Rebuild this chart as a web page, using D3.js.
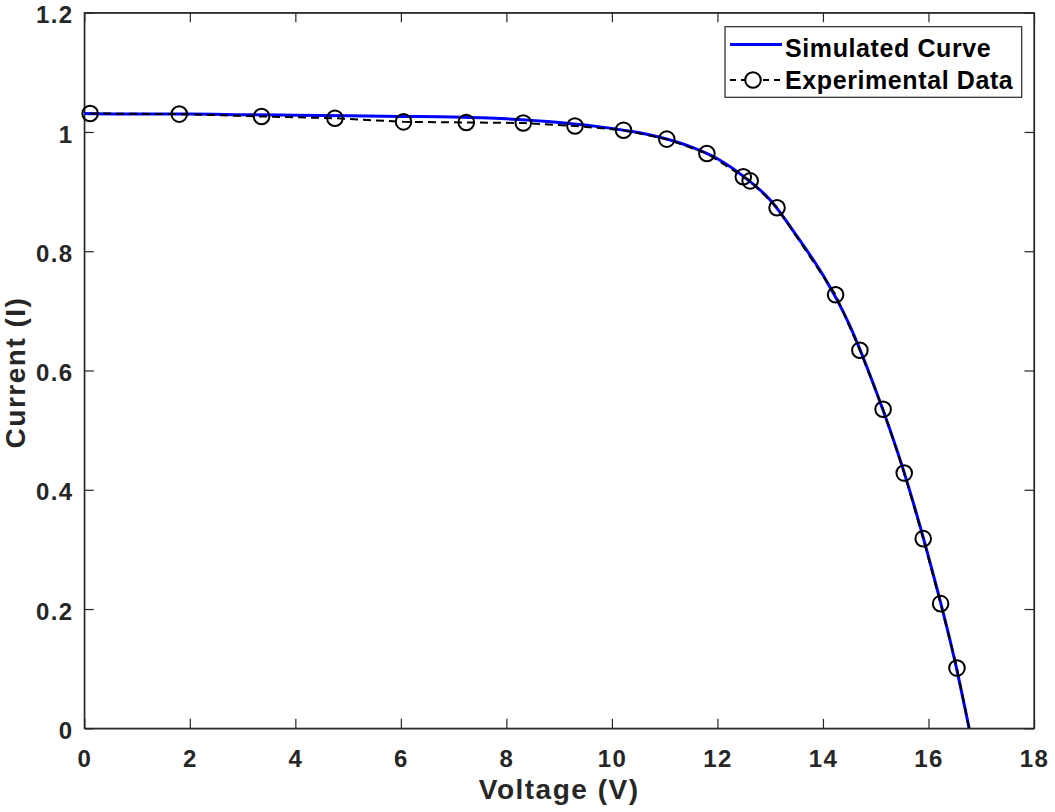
<!DOCTYPE html>
<html>
<head>
<meta charset="utf-8">
<script src="https://cdn.jsdelivr.net/npm/d3@7"></script>
<style>
  body { margin: 0; background: #fff; }
  text { font-family: "Liberation Sans", Arial, Helvetica, sans-serif; font-weight: bold; fill: #262626; }
</style>
</head>
<body>
<svg id="chart" width="1055" height="812"></svg>
<script>
// measured I-V points
const expVoltage = [0.11, 1.80, 3.36, 4.75, 6.05, 7.24, 8.32, 9.30, 10.22, 11.04, 11.80, 12.49, 12.62, 13.13, 14.24, 14.70, 15.14, 15.54, 15.90, 16.23, 16.54];
const expCurrent = [1.031, 1.030, 1.026, 1.023, 1.017, 1.016, 1.015, 1.010, 1.003, 0.988, 0.964, 0.925, 0.918, 0.873, 0.727, 0.634, 0.535, 0.428, 0.318, 0.209, 0.101];
// dashed line runs on to the open-circuit point (no marker there)
const expEnd = { v: 16.77, i: 0 };

// model curve
const simVoltage = [0, 1, 2, 3, 4, 5, 6, 7, 8, 9, 10, 10.5, 11, 11.5, 12, 12.5, 13, 13.5, 14, 14.5, 15, 15.5, 16, 16.5, 16.77];
const simCurrent = [1.031, 1.030, 1.030, 1.029, 1.028, 1.027, 1.026, 1.025, 1.022, 1.016, 1.006, 0.999, 0.989, 0.975, 0.955, 0.925, 0.886, 0.826, 0.760, 0.677, 0.567, 0.440, 0.288, 0.113, 0];

const xTicks = [0, 2, 4, 6, 8, 10, 12, 14, 16, 18];
const yTicks = [0, 0.2, 0.4, 0.6, 0.8, 1, 1.2];

const margin = { left: 84.3, right: 1034, top: 12.7, bottom: 728.3 };
const axisColor = "#262626";
const tickLen = 9.5;

const svg = d3.select("#chart");

const x = d3.scaleLinear().domain([0, 18]).range([margin.left, margin.right]);
const y = d3.scaleLinear().domain([0, 1.2]).range([margin.bottom, margin.top]);

svg.append("defs").append("clipPath").attr("id", "plot-clip")
    .append("rect")
    .attr("x", margin.left).attr("y", margin.top)
    .attr("width", margin.right - margin.left)
    .attr("height", margin.bottom - margin.top);

// axes, ticks pointing inward on all four sides
const tickFmt = d => d3.format("")(+d.toFixed(1));

svg.append("g")
    .attr("transform", `translate(0,${margin.bottom})`)
    .call(d3.axisBottom(x).tickValues(xTicks).tickSizeInner(-tickLen).tickSizeOuter(0).tickPadding(22).tickFormat(tickFmt))
    .call(g => g.selectAll("text").style("font-size", "24px").style("letter-spacing", "1.3px"));

svg.append("g")
    .attr("transform", `translate(${margin.left},0)`)
    .call(d3.axisLeft(y).tickValues(yTicks).tickSizeInner(-tickLen).tickSizeOuter(0).tickPadding(11).tickFormat(tickFmt))
    .call(g => g.selectAll("text").style("font-size", "24px").style("letter-spacing", "1.3px").attr("dy", "0.42em"));

svg.append("g")
    .attr("transform", `translate(0,${margin.top})`)
    .call(d3.axisTop(x).tickValues(xTicks).tickSizeInner(-tickLen).tickSizeOuter(0).tickFormat(""));

svg.append("g")
    .attr("transform", `translate(${margin.right},0)`)
    .call(d3.axisRight(y).tickValues(yTicks).tickSizeInner(-tickLen).tickSizeOuter(0).tickFormat(""));

svg.selectAll(".domain, .tick line").attr("stroke", axisColor).attr("stroke-width", 1.2);

svg.append("rect")
    .attr("x", margin.left).attr("y", margin.top)
    .attr("width", margin.right - margin.left)
    .attr("height", margin.bottom - margin.top)
    .attr("fill", "none").attr("stroke", axisColor).attr("stroke-width", 1.2);

// lines
const simData = simVoltage.map((v, k) => ({ v, i: simCurrent[k] }));
const expData = expVoltage.map((v, k) => ({ v, i: expCurrent[k] }));

const plot = svg.append("g").attr("clip-path", "url(#plot-clip)");

plot.append("path")
    .datum(simData)
    .attr("fill", "none")
    .attr("stroke", "#0000ff")
    .attr("stroke-width", 3)
    .attr("d", d3.line().x(d => x(d.v)).y(d => y(d.i)).curve(d3.curveMonotoneX));

plot.append("path")
    .datum(expData.concat([expEnd]))
    .attr("fill", "none")
    .attr("stroke", "#000")
    .attr("stroke-width", 2)
    .attr("stroke-dasharray", "8,5")
    .attr("d", d3.line().x(d => x(d.v)).y(d => y(d.i)));

svg.append("g").selectAll("circle")
    .data(expData)
    .join("circle")
    .attr("cx", d => x(d.v))
    .attr("cy", d => y(d.i))
    .attr("r", 7.8)
    .attr("fill", "none")
    .attr("stroke", "#000")
    .attr("stroke-width", 2);

// axis labels
svg.append("text")
    .attr("x", (margin.left + margin.right) / 2)
    .attr("y", 799)
    .attr("text-anchor", "middle")
    .style("font-size", "28px")
    .style("letter-spacing", "1.5px")
    .text("Voltage (V)");

svg.append("text")
    .attr("transform", `translate(25,${(margin.top + margin.bottom) / 2 + 2}) rotate(-90)`)
    .attr("text-anchor", "middle")
    .style("font-size", "28px")
    .style("letter-spacing", "1.5px")
    .text("Current (I)");

// legend
const legend = svg.append("g");
legend.append("rect")
    .attr("x", 725).attr("y", 26.7)
    .attr("width", 296.7).attr("height", 70.6)
    .attr("fill", "#fff").attr("stroke", axisColor).attr("stroke-width", 1.2);

legend.append("line")
    .attr("x1", 730).attr("x2", 782).attr("y1", 44.5).attr("y2", 44.5)
    .attr("stroke", "#0000ff").attr("stroke-width", 3);

legend.append("line")
    .attr("x1", 730).attr("x2", 782).attr("y1", 80).attr("y2", 80)
    .attr("stroke", "#000").attr("stroke-width", 2).attr("stroke-dasharray", "6,5");

legend.append("circle")
    .attr("cx", 753).attr("cy", 80).attr("r", 7.8)
    .attr("fill", "#fff").attr("stroke", "#000").attr("stroke-width", 2);

legend.append("text")
    .attr("x", 785).attr("y", 56.5)
    .style("font-size", "25px").style("letter-spacing", "0.6px").style("fill", "#000")
    .text("Simulated Curve");

legend.append("text")
    .attr("x", 785).attr("y", 89)
    .style("font-size", "25px").style("letter-spacing", "0.6px").style("fill", "#000")
    .text("Experimental Data");
</script>
</body>
</html>
